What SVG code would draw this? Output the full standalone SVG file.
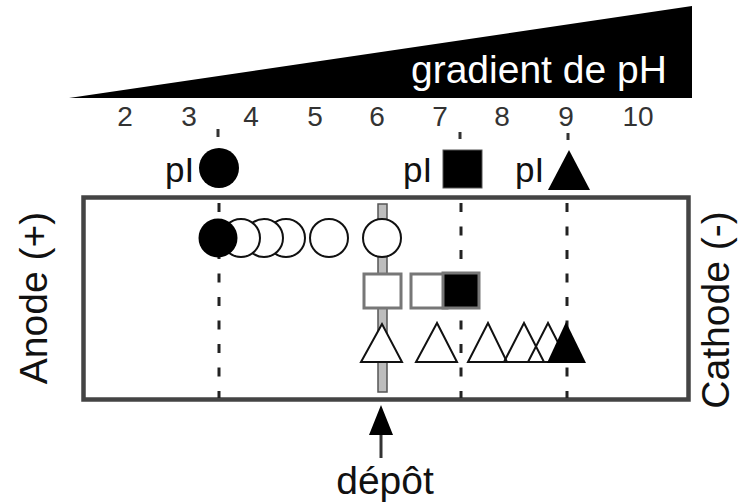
<svg xmlns="http://www.w3.org/2000/svg" width="738" height="503" viewBox="0 0 738 503">
<style>
text{font-family:"Liberation Sans",Arial,sans-serif;fill:#111}
.num{font-size:28px;text-anchor:middle;fill:#333}
.pi{font-size:35px}
.side{font-size:39px;text-anchor:middle}
.dash{stroke:#222;stroke-width:3;stroke-dasharray:9 14.5;fill:none}
.tick{stroke:#333;stroke-width:3}
.oc{fill:#fff;stroke:#111;stroke-width:2}
.sq{stroke:#777;stroke-width:3}
.tri{fill:none;stroke:#111;stroke-width:2;stroke-linejoin:miter}
</style>

<g id="ph-gradient">
<polygon points="69,98 692,6 692,98" fill="#000"/>
<text x="411" y="83" font-size="39" style="fill:#fff">gradient de pH</text>
</g>

<g id="ph-scale">
<text class="num" x="125" y="126">2</text>
<text class="num" x="189" y="126">3</text>
<text class="num" x="251" y="126">4</text>
<text class="num" x="315" y="126">5</text>
<text class="num" x="377" y="126">6</text>
<text class="num" x="440" y="126">7</text>
<text class="num" x="502" y="126">8</text>
<text class="num" x="566" y="126">9</text>
<text class="num" x="638" y="126">10</text>
</g>

<g id="ticks">
<line class="tick" x1="218" y1="129" x2="218" y2="137"/>
<line class="tick" x1="460" y1="132" x2="460" y2="139"/>
<line class="tick" x1="568" y1="133" x2="568" y2="140"/>
</g>

<g id="pI-circle">
<text class="pi" x="165" y="182">pI</text>
<circle cx="219" cy="168" r="20" fill="#000"/>
</g>
<g id="pI-square">
<text class="pi" x="403" y="182">pI</text>
<rect x="443" y="150" width="39" height="38" fill="#000" stroke="#555" stroke-width="1"/>
</g>
<g id="pI-triangle">
<text class="pi" x="515" y="182">pI</text>
<polygon points="569,150 548,190 590,190" fill="#000"/>
</g>

<g id="gel">
<rect x="83.5" y="197.5" width="605" height="202" fill="#fff" stroke="#444" stroke-width="4.5"/>
</g>

<g id="connectors">
<line class="dash" x1="219" y1="203" x2="219" y2="398"/>
<line class="dash" x1="461" y1="203" x2="461" y2="398"/>
<line class="dash" x1="567" y1="203" x2="567" y2="398"/>
<line x1="381" y1="458" x2="381" y2="430" stroke="#333" stroke-width="3"/>
<polygon points="381,405 369,435 393,435" fill="#000"/>
</g>

<g id="deposit-well">
<rect x="378" y="204" width="9" height="188" fill="#bdbdbd" stroke="#555" stroke-width="1.5"/>
</g>

<g id="circles">
<circle class="oc" cx="329" cy="238" r="19"/>
<circle class="oc" cx="286" cy="238" r="19"/>
<circle class="oc" cx="264" cy="238" r="19"/>
<circle class="oc" cx="241" cy="238" r="19"/>
<circle cx="218" cy="238" r="19.5" fill="#000"/>
<circle class="oc" cx="382" cy="238" r="19"/>
</g>

<g id="squares">
<rect class="sq" x="364" y="274" width="37" height="34" fill="#fff"/>
<rect class="sq" x="411" y="274" width="36" height="34" fill="#fff"/>
<rect class="sq" x="443" y="273" width="36" height="35" fill="#000"/>
</g>

<g id="triangles">
<polygon points="382,324 361,362 402,362" fill="#fff" stroke="#111" stroke-width="2"/>
<polygon class="tri" points="437,323 416,362 457,362"/>
<polygon class="tri" points="488,323 468,362 507,362"/>
<polygon class="tri" points="524,323 504,362 544,362"/>
<polygon class="tri" points="548,323 528,362 568,362"/>
<polygon points="566,322 547,363 586,363" fill="#000"/>
</g>

<g id="labels">
<text class="side" transform="translate(47,298) rotate(-90)">Anode (+)</text>
<text class="side" transform="translate(729,310) rotate(-90)">Cathode (-)</text>
<text x="385" y="494" font-size="39" text-anchor="middle">dépôt</text>
</g>
</svg>
